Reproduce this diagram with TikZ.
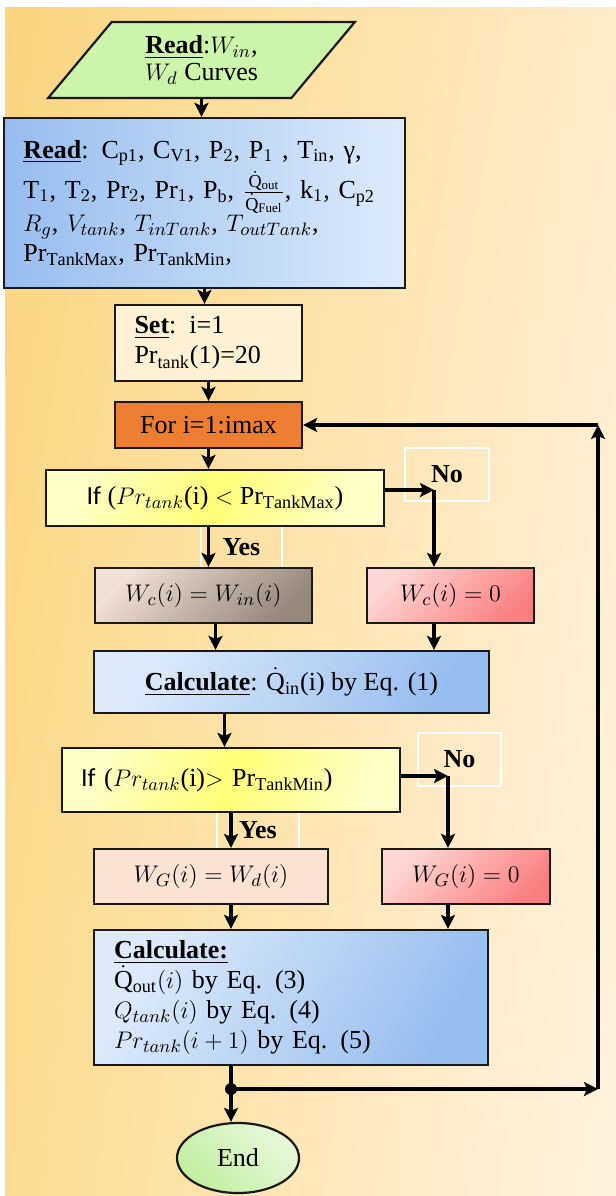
\documentclass[tikz,border=0pt]{standalone}
\usepackage{fontspec}
\setmainfont{Liberation Serif}
\newfontfamily\ifsans{Carlito}
\usetikzlibrary{positioning, arrows.meta, shapes.geometric, calc, shadings}
\usepackage{xcolor}
\usepackage{amsmath}

\definecolor{bgA}{RGB}{252,212,128}
\definecolor{bgB}{RGB}{254,236,200}
\definecolor{bgC}{RGB}{253,220,146}
\definecolor{bgD}{RGB}{255,244,226}
\definecolor{grnIO}{RGB}{204,244,170}
\definecolor{blueD}{RGB}{150,190,240}
\definecolor{blueL}{RGB}{222,234,250}
\definecolor{cream}{RGB}{254,241,212}
\definecolor{forOr}{RGB}{237,125,49}
\definecolor{ifYel}{RGB}{255,255,120}
\definecolor{ifPale}{RGB}{255,255,200}
\definecolor{brL}{RGB}{240,224,214}
\definecolor{brD}{RGB}{150,136,124}
\definecolor{pkL}{RGB}{255,214,214}
\definecolor{pkD}{RGB}{250,128,128}
\definecolor{wgFill}{RGB}{250,227,213}
\definecolor{endG}{RGB}{195,238,160}
\definecolor{endL}{RGB}{232,248,218}

\newcommand{\boxfont}{\fontsize{13pt}{15pt}\selectfont}

\begin{document}
\begin{tikzpicture}[x=0.5pt, y=-0.5pt,
    box/.style={draw=black!90, line width=1.1pt, rectangle, align=center, inner sep=0pt, font=\boxfont},
    leftbox/.style={box, align=left},
    iobox/.style={draw=black!90, line width=1.1pt, trapezium, trapezium left angle=51, trapezium right angle=129, trapezium stretches=true, align=center, inner sep=0pt, font=\fontsize{13pt}{13.5pt}\selectfont},
    endbox/.style={draw=black!90, line width=1.1pt, ellipse, inner sep=0pt, font=\boxfont},
    anslabel/.style={draw=white, line width=1pt, inner sep=0pt, font=\boxfont\bfseries},
    ifshade/.style={left color=ifPale, right color=ifPale, middle color=ifYel, shading angle=70},
    pinkshade/.style={left color=pkL, right color=pkD, shading angle=45},
    calcshade/.style={left color=blueL, right color=blueD, shading angle=60},
    arrow/.style={-{Stealth[length=7pt, width=7pt, inset=1.5pt]}, line width=1.7pt}
]

% Background
\fill[white] (0,0) rectangle (616,1196);
\shade[upper left=bgA, upper right=bgB, lower left=bgC, lower right=bgD] (5,7) rectangle (616,1196);
\useasboundingbox (0,0) rectangle (616,1196);

% Yes / No labels
\node[anslabel, minimum width=42pt, minimum height=26.5pt] (no1) at (447,474.5) {No};
\node[anslabel, minimum width=40.5pt, minimum height=21pt] (yes1) at (241.5,547) {Yes};
\node[anslabel, minimum width=41.5pt, minimum height=26.5pt] (no2) at (459.5,759.5) {No};
\node[anslabel, minimum width=41pt, minimum height=18.5pt] (yes2) at (258,830.5) {Yes};

% Nodes
\node[iobox, minimum width=154.5pt, minimum height=38pt, fill=grnIO] (rdcurve) at (201.5,60) {\underline{\textbf{Read}}:$W_{in}$,\\ $W_d$ Curves};
\node[leftbox, text width=181pt, minimum width=200.5pt, minimum height=85pt, left color=blueD, right color=blueL] (rdpar) at (204.5,203)
    {\underline{\textbf{Read}}: C$_{\mathrm{p1}}$, C$_{\mathrm{V1}}$, P$_2$, P$_1$ , T$_{\mathrm{in}}$, γ,\\[2pt]
     T$_1$, T$_2$, Pr$_2$, Pr$_1$, P$_{\mathrm{b}}$, $\frac{\dot{\mathrm{Q}}_{\mathrm{out}}}{\dot{\mathrm{Q}}_{\mathrm{Fuel}}}$, k$_1$, C$_{\mathrm{p2}}$\\
     $R_g$, $V_{tank}$, $T_{inTank}$, $T_{outTank}$,\\
     Pr$_{\mathrm{TankMax}}$, Pr$_{\mathrm{TankMin}}$,};
\node[leftbox, text width=74pt, minimum width=93.5pt, minimum height=38pt, fill=cream] (setbox) at (208.5,343) {\underline{\textbf{Set}}: i=1\\ Pr$_{\mathrm{tank}}$(1)=20};
\node[box, minimum width=93.5pt, minimum height=23pt, fill=forOr] (forbox) at (208.5,425) {For i=1:imax};
\node[box, minimum width=169pt, minimum height=28pt, ifshade] (ifmax) at (215,498) {{\ifsans If} ($Pr_{tank}$(i) $<$ Pr$_{\mathrm{TankMax}}$)};
\node[box, minimum width=108.5pt, minimum height=27.5pt, left color=brL, right color=brD, shading angle=45] (wcin) at (203.5,595.5) {$W_c(i) = W_{in}(i)$};
\node[box, minimum width=83.5pt, minimum height=27.5pt, pinkshade] (wczero) at (450.5,595.5) {$W_c(i) = 0$};
\node[box, minimum width=197.5pt, minimum height=31pt, calcshade] (qin) at (291.5,682) {\underline{\textbf{Calculate}}: $\dot{\mathrm{Q}}_{\mathrm{in}}$(i) by Eq. (1)};
\node[leftbox, text width=150pt, minimum width=169pt, minimum height=32pt, ifshade] (ifmin) at (231,780) {{\ifsans If} ($Pr_{tank}$(i)$>$ Pr$_{\mathrm{TankMin}}$)};
\node[box, minimum width=117pt, minimum height=27.5pt, fill=wgFill] (wgd) at (211,876.5) {$W_G(i) = W_d(i)$};
\node[box, minimum width=84pt, minimum height=27.5pt, pinkshade] (wgzero) at (466,876.5) {$W_G(i) = 0$};
\node[leftbox, text width=177pt, minimum width=197pt, minimum height=67.5pt, calcshade] (tankcalc) at (291,997.5)
    {\underline{\textbf{Calculate:}}\\
     $\dot{\mathrm{Q}}_{\mathrm{out}}(i)$ by Eq. (3)\\
     $Q_{tank}(i)$ by Eq. (4)\\
     $Pr_{tank}(i+1)$ by Eq. (5)};
\node[endbox, minimum width=61pt, minimum height=35pt, left color=endL, right color=endG, shading angle=-45] (stop) at (238,1158) {End};

% Corners of the branches and the loop
\coordinate (noA) at (434,490);
\coordinate (noB) at (448,776);
\coordinate (jn) at (231,1089);
\coordinate (lpB) at (598,1089);
\coordinate (lpT) at (598,425);

% Edges
\draw[arrow] (rdcurve.south) -- (rdcurve.south |- rdpar.north);
\draw[arrow] (rdpar.south) -- (rdpar.south |- setbox.north);
\draw[arrow] (setbox.south) -- (forbox.north);
\draw[arrow] (forbox.south) -- (forbox.south |- ifmax.north);
\draw[arrow] (forbox.south |- ifmax.south) -- (forbox.south |- wcin.north);
\draw[arrow] (ifmax.east |- noA) -- (noA);
\draw[arrow] (noA) -- (noA |- wczero.north);
\draw[arrow] ([xshift=6pt]wcin.south) -- ([xshift=6pt]wcin.south |- qin.north);
\draw[arrow] (wczero.south -| noA) -- (noA |- qin.north);
\draw[arrow] ([xshift=-33.5pt]qin.south) -- ([xshift=-33.5pt]qin.south |- ifmin.north);
\draw[arrow] (ifmin.east |- noB) -- (noB);
\draw[arrow] (noB) -- (noB |- wgzero.north);
\draw[arrow] (ifmin.south) -- (ifmin.south |- wgd.north);
\draw[arrow] (wgd.south -| jn) -- (jn |- tankcalc.north);
\draw[arrow] (wgzero.south -| noB) -- (noB |- tankcalc.north);
\draw[arrow] (tankcalc.south -| jn) -- (jn |- stop.north);
\fill (jn) circle[radius=3pt];
\draw[arrow] (jn) -- (lpB);
\draw[arrow] (lpB) -- (lpT);
\draw[arrow] (lpT) -- (forbox.east |- lpT);

\end{tikzpicture}
\end{document}
